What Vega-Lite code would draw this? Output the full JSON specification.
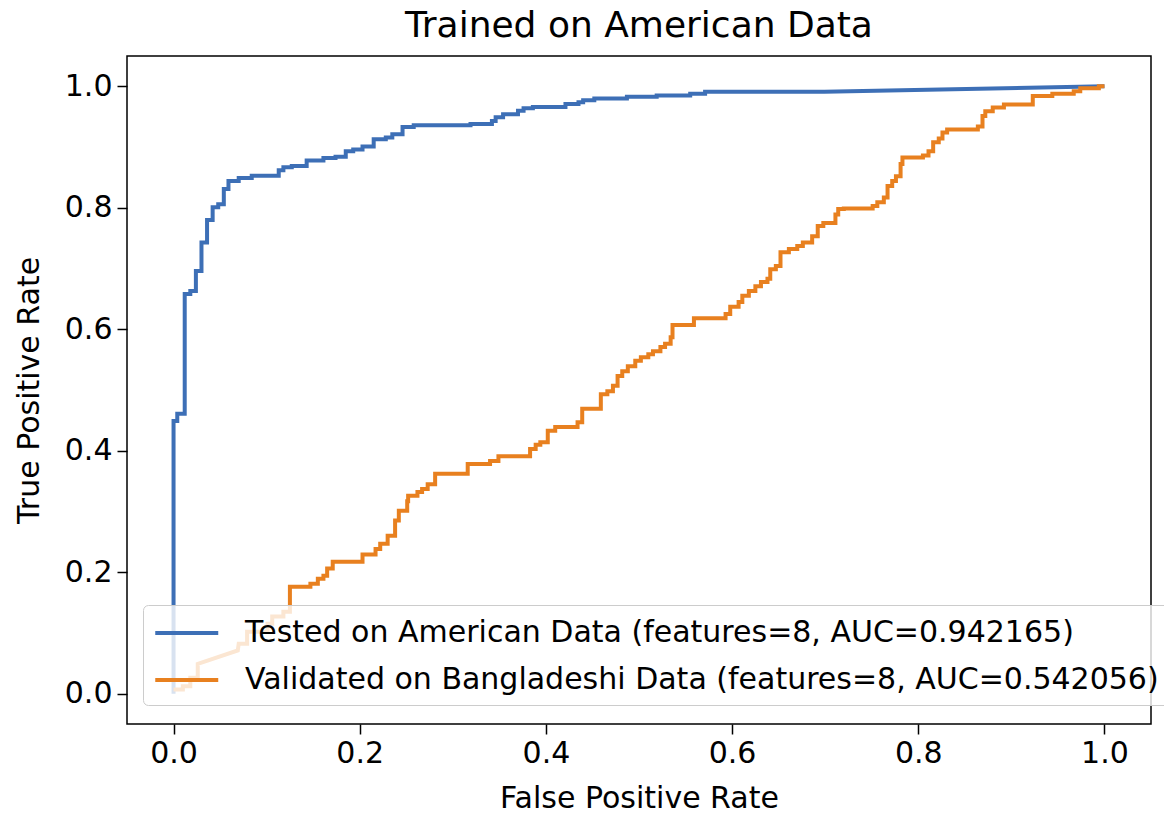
{
  "$schema": "https://vega.github.io/schema/vega-lite/v6.json",
  "width": 1024,
  "height": 668,
  "autosize": {"type": "none"},
  "padding": {"left": 127, "top": 56, "right": 13, "bottom": 90},
  "background": "white",
  "title": {"text": "Trained on American Data", "fontSize": 36, "fontWeight": "normal", "color": "black", "offset": 11, "anchor": "middle"},
  "config": {
    "font": "DejaVu Sans",
    "view": {"stroke": "black", "strokeWidth": 1.5}
  },
  "data": {"values": [
    {"s":"a","x":0,"y":0},{"s":"a","x":0,"y":0.449},{"s":"a","x":0.004,"y":0.449},{"s":"a","x":0.004,"y":0.461},{"s":"a","x":0.012,"y":0.461},{"s":"a","x":0.012,"y":0.658},{"s":"a","x":0.018,"y":0.658},{"s":"a","x":0.018,"y":0.663},{"s":"a","x":0.024,"y":0.663},{"s":"a","x":0.024,"y":0.696},{"s":"a","x":0.030,"y":0.696},{"s":"a","x":0.030,"y":0.743},{"s":"a","x":0.036,"y":0.743},{"s":"a","x":0.036,"y":0.780},{"s":"a","x":0.042,"y":0.780},{"s":"a","x":0.042,"y":0.801},{"s":"a","x":0.048,"y":0.801},{"s":"a","x":0.048,"y":0.806},{"s":"a","x":0.054,"y":0.806},{"s":"a","x":0.054,"y":0.831},{"s":"a","x":0.059,"y":0.831},{"s":"a","x":0.059,"y":0.844},{"s":"a","x":0.070,"y":0.844},{"s":"a","x":0.070,"y":0.849},{"s":"a","x":0.084,"y":0.849},{"s":"a","x":0.084,"y":0.853},{"s":"a","x":0.113,"y":0.853},{"s":"a","x":0.113,"y":0.862},{"s":"a","x":0.118,"y":0.862},{"s":"a","x":0.118,"y":0.867},{"s":"a","x":0.127,"y":0.867},{"s":"a","x":0.127,"y":0.869},{"s":"a","x":0.143,"y":0.869},{"s":"a","x":0.143,"y":0.878},{"s":"a","x":0.161,"y":0.878},{"s":"a","x":0.161,"y":0.882},{"s":"a","x":0.174,"y":0.882},{"s":"a","x":0.174,"y":0.884},{"s":"a","x":0.185,"y":0.884},{"s":"a","x":0.185,"y":0.893},{"s":"a","x":0.193,"y":0.893},{"s":"a","x":0.193,"y":0.896},{"s":"a","x":0.203,"y":0.896},{"s":"a","x":0.203,"y":0.901},{"s":"a","x":0.215,"y":0.901},{"s":"a","x":0.215,"y":0.913},{"s":"a","x":0.228,"y":0.913},{"s":"a","x":0.228,"y":0.916},{"s":"a","x":0.235,"y":0.916},{"s":"a","x":0.235,"y":0.921},{"s":"a","x":0.246,"y":0.921},{"s":"a","x":0.246,"y":0.933},{"s":"a","x":0.258,"y":0.933},{"s":"a","x":0.258,"y":0.936},{"s":"a","x":0.319,"y":0.936},{"s":"a","x":0.319,"y":0.938},{"s":"a","x":0.342,"y":0.938},{"s":"a","x":0.342,"y":0.943},{"s":"a","x":0.346,"y":0.943},{"s":"a","x":0.346,"y":0.949},{"s":"a","x":0.354,"y":0.949},{"s":"a","x":0.354,"y":0.954},{"s":"a","x":0.370,"y":0.954},{"s":"a","x":0.370,"y":0.960},{"s":"a","x":0.376,"y":0.960},{"s":"a","x":0.376,"y":0.964},{"s":"a","x":0.386,"y":0.964},{"s":"a","x":0.386,"y":0.966},{"s":"a","x":0.421,"y":0.966},{"s":"a","x":0.421,"y":0.971},{"s":"a","x":0.435,"y":0.971},{"s":"a","x":0.435,"y":0.974},{"s":"a","x":0.440,"y":0.974},{"s":"a","x":0.440,"y":0.977},{"s":"a","x":0.452,"y":0.977},{"s":"a","x":0.452,"y":0.980},{"s":"a","x":0.487,"y":0.980},{"s":"a","x":0.487,"y":0.983},{"s":"a","x":0.519,"y":0.983},{"s":"a","x":0.519,"y":0.985},{"s":"a","x":0.555,"y":0.985},{"s":"a","x":0.555,"y":0.988},{"s":"a","x":0.571,"y":0.988},{"s":"a","x":0.571,"y":0.991},{"s":"a","x":0.699,"y":0.991},{"s":"a","x":1,"y":1},
    {"s":"b","x":0,"y":0.007},{"s":"b","x":0.010,"y":0.007},{"s":"b","x":0.010,"y":0.012},{"s":"b","x":0.018,"y":0.012},{"s":"b","x":0.018,"y":0.026},{"s":"b","x":0.026,"y":0.026},{"s":"b","x":0.026,"y":0.049},{"s":"b","x":0.069,"y":0.071},{"s":"b","x":0.070,"y":0.082},{"s":"b","x":0.079,"y":0.082},{"s":"b","x":0.079,"y":0.102},{"s":"b","x":0.101,"y":0.102},{"s":"b","x":0.101,"y":0.115},{"s":"b","x":0.106,"y":0.115},{"s":"b","x":0.106,"y":0.127},{"s":"b","x":0.118,"y":0.127},{"s":"b","x":0.118,"y":0.135},{"s":"b","x":0.125,"y":0.135},{"s":"b","x":0.125,"y":0.176},{"s":"b","x":0.147,"y":0.176},{"s":"b","x":0.147,"y":0.181},{"s":"b","x":0.155,"y":0.181},{"s":"b","x":0.155,"y":0.189},{"s":"b","x":0.161,"y":0.189},{"s":"b","x":0.161,"y":0.194},{"s":"b","x":0.165,"y":0.194},{"s":"b","x":0.165,"y":0.206},{"s":"b","x":0.171,"y":0.206},{"s":"b","x":0.171,"y":0.217},{"s":"b","x":0.203,"y":0.217},{"s":"b","x":0.203,"y":0.229},{"s":"b","x":0.217,"y":0.229},{"s":"b","x":0.217,"y":0.238},{"s":"b","x":0.222,"y":0.238},{"s":"b","x":0.222,"y":0.247},{"s":"b","x":0.230,"y":0.247},{"s":"b","x":0.230,"y":0.260},{"s":"b","x":0.238,"y":0.260},{"s":"b","x":0.238,"y":0.285},{"s":"b","x":0.242,"y":0.285},{"s":"b","x":0.242,"y":0.301},{"s":"b","x":0.251,"y":0.301},{"s":"b","x":0.251,"y":0.317},{"s":"b","x":0.252,"y":0.317},{"s":"b","x":0.252,"y":0.326},{"s":"b","x":0.262,"y":0.326},{"s":"b","x":0.262,"y":0.332},{"s":"b","x":0.267,"y":0.332},{"s":"b","x":0.267,"y":0.337},{"s":"b","x":0.273,"y":0.337},{"s":"b","x":0.273,"y":0.345},{"s":"b","x":0.281,"y":0.345},{"s":"b","x":0.281,"y":0.362},{"s":"b","x":0.316,"y":0.362},{"s":"b","x":0.316,"y":0.378},{"s":"b","x":0.340,"y":0.378},{"s":"b","x":0.340,"y":0.383},{"s":"b","x":0.349,"y":0.383},{"s":"b","x":0.349,"y":0.391},{"s":"b","x":0.383,"y":0.391},{"s":"b","x":0.383,"y":0.403},{"s":"b","x":0.389,"y":0.403},{"s":"b","x":0.389,"y":0.410},{"s":"b","x":0.394,"y":0.410},{"s":"b","x":0.394,"y":0.414},{"s":"b","x":0.402,"y":0.414},{"s":"b","x":0.402,"y":0.433},{"s":"b","x":0.410,"y":0.433},{"s":"b","x":0.410,"y":0.439},{"s":"b","x":0.434,"y":0.439},{"s":"b","x":0.434,"y":0.447},{"s":"b","x":0.439,"y":0.447},{"s":"b","x":0.439,"y":0.469},{"s":"b","x":0.459,"y":0.469},{"s":"b","x":0.459,"y":0.493},{"s":"b","x":0.466,"y":0.493},{"s":"b","x":0.466,"y":0.498},{"s":"b","x":0.472,"y":0.498},{"s":"b","x":0.472,"y":0.507},{"s":"b","x":0.477,"y":0.507},{"s":"b","x":0.477,"y":0.523},{"s":"b","x":0.482,"y":0.523},{"s":"b","x":0.482,"y":0.531},{"s":"b","x":0.488,"y":0.531},{"s":"b","x":0.488,"y":0.539},{"s":"b","x":0.496,"y":0.539},{"s":"b","x":0.496,"y":0.548},{"s":"b","x":0.502,"y":0.548},{"s":"b","x":0.502,"y":0.554},{"s":"b","x":0.510,"y":0.554},{"s":"b","x":0.510,"y":0.559},{"s":"b","x":0.515,"y":0.559},{"s":"b","x":0.515,"y":0.564},{"s":"b","x":0.523,"y":0.564},{"s":"b","x":0.523,"y":0.571},{"s":"b","x":0.528,"y":0.571},{"s":"b","x":0.528,"y":0.576},{"s":"b","x":0.534,"y":0.576},{"s":"b","x":0.534,"y":0.587},{"s":"b","x":0.536,"y":0.587},{"s":"b","x":0.536,"y":0.607},{"s":"b","x":0.559,"y":0.607},{"s":"b","x":0.559,"y":0.618},{"s":"b","x":0.593,"y":0.618},{"s":"b","x":0.593,"y":0.625},{"s":"b","x":0.598,"y":0.625},{"s":"b","x":0.598,"y":0.637},{"s":"b","x":0.607,"y":0.637},{"s":"b","x":0.607,"y":0.645},{"s":"b","x":0.611,"y":0.645},{"s":"b","x":0.611,"y":0.655},{"s":"b","x":0.618,"y":0.655},{"s":"b","x":0.618,"y":0.663},{"s":"b","x":0.625,"y":0.663},{"s":"b","x":0.625,"y":0.671},{"s":"b","x":0.631,"y":0.671},{"s":"b","x":0.631,"y":0.678},{"s":"b","x":0.638,"y":0.678},{"s":"b","x":0.638,"y":0.683},{"s":"b","x":0.641,"y":0.683},{"s":"b","x":0.641,"y":0.699},{"s":"b","x":0.647,"y":0.699},{"s":"b","x":0.647,"y":0.704},{"s":"b","x":0.652,"y":0.704},{"s":"b","x":0.652,"y":0.727},{"s":"b","x":0.661,"y":0.727},{"s":"b","x":0.661,"y":0.732},{"s":"b","x":0.670,"y":0.732},{"s":"b","x":0.670,"y":0.737},{"s":"b","x":0.676,"y":0.737},{"s":"b","x":0.676,"y":0.743},{"s":"b","x":0.686,"y":0.743},{"s":"b","x":0.686,"y":0.753},{"s":"b","x":0.692,"y":0.753},{"s":"b","x":0.692,"y":0.770},{"s":"b","x":0.698,"y":0.770},{"s":"b","x":0.698,"y":0.775},{"s":"b","x":0.711,"y":0.775},{"s":"b","x":0.711,"y":0.789},{"s":"b","x":0.714,"y":0.789},{"s":"b","x":0.714,"y":0.798},{"s":"b","x":0.720,"y":0.798},{"s":"b","x":0.720,"y":0.799},{"s":"b","x":0.751,"y":0.799},{"s":"b","x":0.751,"y":0.803},{"s":"b","x":0.756,"y":0.803},{"s":"b","x":0.756,"y":0.809},{"s":"b","x":0.763,"y":0.809},{"s":"b","x":0.763,"y":0.817},{"s":"b","x":0.767,"y":0.817},{"s":"b","x":0.767,"y":0.836},{"s":"b","x":0.772,"y":0.836},{"s":"b","x":0.772,"y":0.844},{"s":"b","x":0.776,"y":0.844},{"s":"b","x":0.776,"y":0.852},{"s":"b","x":0.781,"y":0.852},{"s":"b","x":0.781,"y":0.872},{"s":"b","x":0.783,"y":0.872},{"s":"b","x":0.783,"y":0.883},{"s":"b","x":0.805,"y":0.883},{"s":"b","x":0.805,"y":0.886},{"s":"b","x":0.811,"y":0.886},{"s":"b","x":0.811,"y":0.893},{"s":"b","x":0.816,"y":0.893},{"s":"b","x":0.816,"y":0.908},{"s":"b","x":0.822,"y":0.908},{"s":"b","x":0.822,"y":0.914},{"s":"b","x":0.826,"y":0.914},{"s":"b","x":0.826,"y":0.924},{"s":"b","x":0.831,"y":0.924},{"s":"b","x":0.831,"y":0.929},{"s":"b","x":0.864,"y":0.929},{"s":"b","x":0.864,"y":0.934},{"s":"b","x":0.869,"y":0.934},{"s":"b","x":0.869,"y":0.951},{"s":"b","x":0.872,"y":0.951},{"s":"b","x":0.872,"y":0.959},{"s":"b","x":0.880,"y":0.959},{"s":"b","x":0.880,"y":0.965},{"s":"b","x":0.892,"y":0.965},{"s":"b","x":0.892,"y":0.970},{"s":"b","x":0.923,"y":0.970},{"s":"b","x":0.923,"y":0.984},{"s":"b","x":0.944,"y":0.984},{"s":"b","x":0.944,"y":0.988},{"s":"b","x":0.967,"y":0.988},{"s":"b","x":0.967,"y":0.992},{"s":"b","x":0.974,"y":0.992},{"s":"b","x":0.974,"y":0.997},{"s":"b","x":0.994,"y":0.997},{"s":"b","x":0.994,"y":1},{"s":"b","x":1,"y":1}
  ]},
  "mark": {"type": "line", "strokeWidth": 4, "clip": true},
  "encoding": {
    "x": {
      "field": "x", "type": "quantitative",
      "scale": {"domain": [-0.05, 1.05], "nice": false, "zero": false},
      "axis": {"title": "False Positive Rate", "values": [0, 0.2, 0.4, 0.6, 0.8, 1.0], "format": ".1f", "grid": false, "domain": false, "tickColor": "black", "tickSize": 10, "tickWidth": 1.5, "labelFontSize": 30, "labelColor": "black", "labelPadding": 4, "titleFontSize": 30, "titleFontWeight": "normal", "titleColor": "black", "titlePadding": 15}
    },
    "y": {
      "field": "y", "type": "quantitative",
      "scale": {"domain": [-0.05, 1.05], "nice": false, "zero": false},
      "axis": {"title": "True Positive Rate", "values": [0, 0.2, 0.4, 0.6, 0.8, 1.0], "format": ".1f", "grid": false, "domain": false, "tickColor": "black", "tickSize": 10, "tickWidth": 1.5, "labelFontSize": 30, "labelColor": "black", "labelPadding": 5, "titleFontSize": 30, "titleFontWeight": "normal", "titleColor": "black", "titlePadding": 20}
    },
    "color": {
      "field": "s", "type": "nominal",
      "scale": {"domain": ["a", "b"], "range": ["#3d6fb6", "#e8801f"]},
      "legend": {
        "title": null, "orient": "none", "legendX": 16, "legendY": 549,
        "labelExpr": "datum.value == 'a' ? 'Tested on American Data (features=8, AUC=0.942165)' : 'Validated on Bangladeshi Data (features=8, AUC=0.542056)'",
        "symbolType": "M-1,0H3", "symbolSize": 992, "symbolStrokeWidth": 4,
        "labelFontSize": 30, "labelColor": "black", "labelLimit": 3000, "labelOffset": 56,
        "rowPadding": 14, "padding": 10,
        "fillColor": "rgba(255,255,255,0.8)", "strokeColor": "#cccccc", "cornerRadius": 5
      }
    },
    "order": {"value": null}
  }
}
